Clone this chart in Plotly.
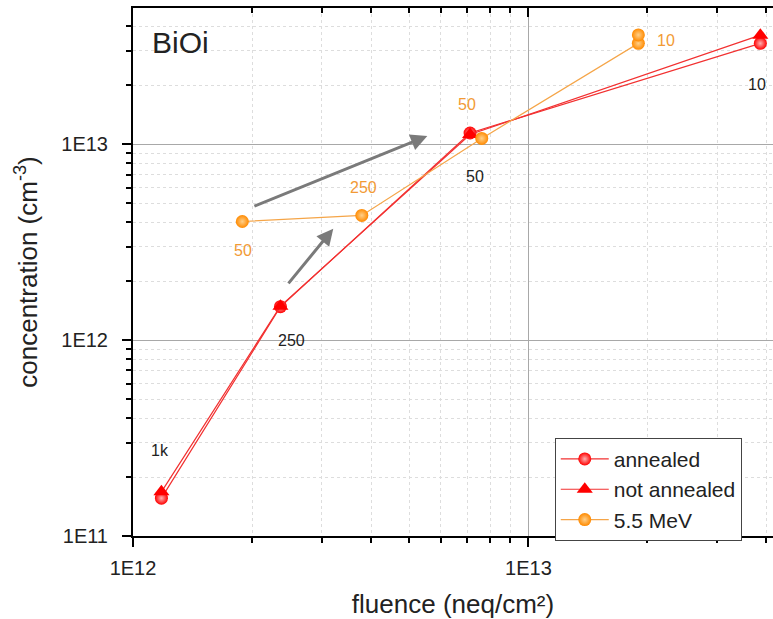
import plotly.graph_objects as go
import numpy as np

# ---------------- data ----------------
ann_x = [1.18e12, 2.36e12, 7.12e12, 3.86e13]
ann_y = [1.56e11, 1.48e12, 1.14e13, 3.27e13]

notann_x = [1.18e12, 2.36e12, 7.12e12, 3.86e13]
notann_y = [1.68e11, 1.49e12, 1.12e13, 3.60e13]

mev_x = [1.89e12, 3.79e12, 7.62e12, 1.897e13, 1.897e13]
mev_y = [4.03e12, 4.33e12, 1.07e13, 3.27e13, 3.61e13]

# point labels
black_labels = ["1k", "250", "50", "10"]
black_lab_x = [1.172e12, 2.51e12, 7.33e12, 3.78e13]
black_lab_y = [2.72e11, 9.93e11, 6.81e12, 2.01e13]

orange_labels = ["50", "250", "50", "10"]
orange_lab_x = [1.90e12, 3.82e12, 7.0e12, 2.23e13]
orange_lab_y = [2.86e12, 5.98e12, 1.585e13, 3.40e13]

# arrows: tail -> head (data units)
arrow_tail_x = [2.01e12, 2.455e12]
arrow_tail_y = [4.79e12, 1.914e12]
arrow_head_x = [5.55e12, 3.21e12]
arrow_head_y = [1.10e13, 3.70e12]

x_major = [1e12, 1e13]
x_major_text = ["1E12", "1E13"]
y_major = [1e11, 1e12, 1e13]
y_major_text = ["1E11", "1E12", "1E13"]
x_minor = [m * 10 ** e for e in (12, 13) for m in range(2, 10)]
y_minor = [m * 10 ** e for e in (11, 12, 13) for m in range(2, 10)]

# ---------------- style ----------------
FONT = "Liberation Sans, Arial, sans-serif"
RED = "#FF0000"
RED_LINE = "#F23030"
ORANGE = "#FF8A00"
ORANGE_LINE = "#F5A548"
ORANGE_TXT = "#F29A35"
TXT = "#222222"

X_RANGE = [12.0, 13.6186]
Y_RANGE = [11.0, 13.695]

fig = go.Figure()

fig.add_trace(go.Scatter(
    x=ann_x, y=ann_y, mode="lines+markers", name="annealed",
    line=dict(color=RED_LINE, width=1.2),
    marker=dict(symbol="circle", size=13, color=RED,
                gradient=dict(type="radial", color="#FFB0B0"),
                line=dict(width=0)),
))
fig.add_trace(go.Scatter(
    x=notann_x, y=notann_y, mode="lines+markers", name="not annealed",
    line=dict(color=RED_LINE, width=1.2),
    marker=dict(symbol="triangle-up", size=14, color=RED, line=dict(width=0)),
))
fig.add_trace(go.Scatter(
    x=mev_x, y=mev_y, mode="lines+markers", name="5.5 MeV",
    line=dict(color=ORANGE_LINE, width=1.2),
    marker=dict(symbol="circle", size=13, color=ORANGE,
                gradient=dict(type="radial", color="#FFD08A"),
                line=dict(width=0)),
))

annotations = []
for t, x, y in zip(black_labels, black_lab_x, black_lab_y):
    annotations.append(dict(text=t, x=np.log10(x), y=np.log10(y), xref="x", yref="y",
                            showarrow=False, font=dict(family=FONT, size=16, color=TXT)))
for t, x, y in zip(orange_labels, orange_lab_x, orange_lab_y):
    annotations.append(dict(text=t, x=np.log10(x), y=np.log10(y), xref="x", yref="y",
                            showarrow=False, font=dict(family=FONT, size=16, color=ORANGE_TXT)))
for tx, ty, hx, hy in zip(arrow_tail_x, arrow_tail_y, arrow_head_x, arrow_head_y):
    annotations.append(dict(text="", x=np.log10(hx), y=np.log10(hy), xref="x", yref="y",
                            ax=np.log10(tx), ay=np.log10(ty), axref="x", ayref="y",
                            showarrow=True, arrowhead=2, arrowsize=1.1, arrowwidth=3,
                            arrowcolor="#7A7A7A"))
annotations.append(dict(text="BiOi", x=12.12, y=13.517, xref="x", yref="y",
                        showarrow=False, font=dict(family=FONT, size=30, color=TXT)))

fig.update_layout(
    width=773, height=619,
    margin=dict(l=133, r=0, t=8, b=83),
    paper_bgcolor="white", plot_bgcolor="white",
    font=dict(family=FONT, size=20, color=TXT),
    showlegend=True,
    legend=dict(x=0.659, y=0.186, xanchor="left", yanchor="top",
                bgcolor="white", bordercolor="#444444", borderwidth=1,
                font=dict(family=FONT, size=21, color=TXT),
                itemwidth=48, tracegroupgap=0),
    annotations=annotations,
)

fig.update_xaxes(
    type="log", range=X_RANGE,
    tickmode="array", tickvals=x_major, ticktext=x_major_text,
    ticks="outside", ticklen=9, tickwidth=1.5, tickcolor="black",
    showline=True, linecolor="black", linewidth=2,
    showgrid=True, gridcolor="#A8A8A8", gridwidth=1,
    zeroline=False,
    tickfont=dict(family=FONT, size=20, color=TXT),
    ticklabelstandoff=4,
    minor=dict(tickmode="array", tickvals=x_minor, ticks="outside", ticklen=5,
               tickwidth=1.5, tickcolor="black",
               showgrid=True, gridcolor="#DDDDDD", griddash="dot", gridwidth=1),
    title=dict(text="fluence (neq/cm²)", font=dict(family=FONT, size=26, color=TXT),
               standoff=18),
)
fig.update_yaxes(
    type="log", range=Y_RANGE,
    tickmode="array", tickvals=y_major, ticktext=y_major_text,
    ticks="outside", ticklen=9, tickwidth=1.5, tickcolor="black",
    showline=True, linecolor="black", linewidth=2,
    showgrid=True, gridcolor="#A8A8A8", gridwidth=1,
    zeroline=False,
    tickfont=dict(family=FONT, size=20, color=TXT),
    ticklabelstandoff=10,
    minor=dict(tickmode="array", tickvals=y_minor, ticks="outside", ticklen=5,
               tickwidth=1.5, tickcolor="black",
               showgrid=True, gridcolor="#DDDDDD", griddash="dot", gridwidth=1),
    title=dict(text="concentration (cm<sup>-3</sup>)",
               font=dict(family=FONT, size=26, color=TXT), standoff=16),
)

# top axis with inward ticks
fig.update_layout(xaxis2=dict(
    type="log", range=X_RANGE, overlaying="x", side="top", anchor="y",
    tickmode="array", tickvals=x_major, showticklabels=False,
    ticks="inside", ticklen=9, tickwidth=1.5, tickcolor="black",
    showline=True, linecolor="black", linewidth=2, showgrid=False, zeroline=False,
    minor=dict(tickmode="array", tickvals=x_minor, ticks="inside", ticklen=5,
               tickwidth=1.5, tickcolor="black", showgrid=False),
))
fig.add_trace(go.Scatter(x=[1e12], y=[1e11], xaxis="x2", mode="markers",
                         marker=dict(opacity=0), showlegend=False, hoverinfo="skip"))

fig.write_html("out.html")
